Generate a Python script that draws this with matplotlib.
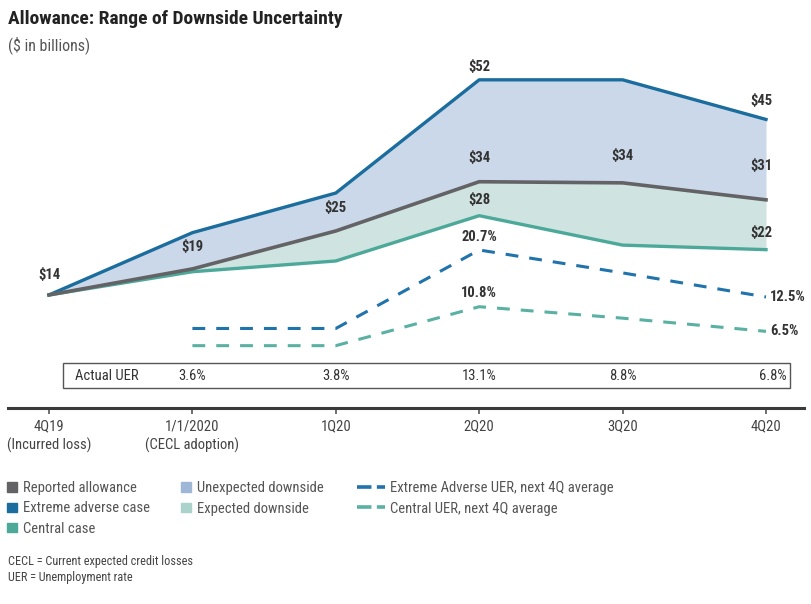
import numpy as np
import matplotlib
matplotlib.use("Agg")
import matplotlib.pyplot as plt
from matplotlib.patches import Patch, Rectangle
from matplotlib.lines import Line2D
from matplotlib.transforms import blended_transform_factory

plt.rcParams['font.family'] = ['Roboto Condensed', 'DejaVu Sans']
plt.rcParams['font.stretch'] = 'condensed'

# ---- data ----
quarters = ['4Q19\n(Incurred loss)', '1/1/2020\n(CECL adoption)', '1Q20', '2Q20', '3Q20', '4Q20']
extreme = [14, 25, 32, 52, 52, 45]
reported = [14, 18.6, 25.3, 34, 33.8, 30.8]
central = [14, 18.1, 20, 28, 22.8, 22]
uer_quarters = [1, 2, 3, 4, 5]
extreme_uer = [7.0, 7.0, 20.7, 16.7, 12.5]
central_uer = [4.0, 4.0, 10.8, 8.8, 6.5]
actual_uer = [3.6, 3.8, 13.1, 8.8, 6.8]

# colours
c_extreme = '#1b6d9e'
c_reported = '#636366'
c_central = '#4ca99a'
c_unexp = '#cbd8e9'
c_exp = '#cfe3e0'
c_dash_ext = '#2073ab'
c_dash_cen = '#5ab1a3'
c_text = '#333333'

fig = plt.figure(figsize=(8.12, 6.04), dpi=100)
ax = fig.add_axes([8 / 812, 1 - 408 / 604, 796 / 812, 348 / 604])
x = np.arange(len(quarters))

ax.fill_between(x, reported, extreme, color=c_unexp, lw=0, zorder=1)
ax.fill_between(x, central, reported, color=c_exp, lw=0, zorder=1)
ax.plot(x, extreme, color=c_extreme, lw=2.4, zorder=3)
ax.plot(x, central, color=c_central, lw=2.4, zorder=3)
ax.plot(x, reported, color=c_reported, lw=2.6, zorder=4)

ax.set_xlim(-0.286, 5.265)
ax.set_ylim(-5.97, 55.5)

# UER on its own (hidden) scale
ax2 = ax.twinx()
ax2.set_ylim(-6.88, 53.86)
ax2.plot(uer_quarters, extreme_uer, color=c_dash_ext, lw=2.2, dashes=(4.2, 3.6))
ax2.plot(uer_quarters, central_uer, color=c_dash_cen, lw=2.2, dashes=(4.2, 3.6))
ax2.axis('off')

# value labels
def lab(axis, xi, val, text, dx=0, dy=12, ha='center'):
    axis.annotate(text, (xi, val), xytext=(dx, dy), textcoords='offset points',
                  ha=ha, va='center', fontsize=10.5, fontweight='bold', color=c_text)

lab(ax, 0, extreme[0], r'\$14', dy=14.5)
lab(ax, 1, reported[1], r'\$19', dy=16)
lab(ax, 2, reported[2], r'\$25', dy=16.5)
lab(ax, 3, extreme[3], r'\$52', dy=9.5)
lab(ax, 3, reported[3], r'\$34', dy=17)
lab(ax, 3, central[3], r'\$28', dy=11)
lab(ax, 4, reported[4], r'\$34', dy=19.5)
lab(ax, 5, extreme[5], r'\$45', dx=-3, dy=13.5)
lab(ax, 5, reported[5], r'\$31', dx=-3, dy=24.5)
lab(ax, 5, central[5], r'\$22', dx=-3, dy=12)
lab(ax2, 3, extreme_uer[2], '20.7%', dy=9.5)
lab(ax2, 3, central_uer[2], '10.8%', dy=10)
lab(ax2, 5, extreme_uer[4], '12.5%', dx=3, dy=0, ha='left')
lab(ax2, 5, central_uer[4], '6.5%', dx=3, dy=0, ha='left')

# axis styling
for s in ['top', 'right', 'left']:
    ax.spines[s].set_visible(False)
ax.spines['bottom'].set_linewidth(2.2)
ax.spines['bottom'].set_color('#3a3a3a')
ax.set_yticks([])
ax.set_xticks(x)
ax.set_xticklabels(quarters, fontsize=10.5, color='#444444', linespacing=1.3)
ax.tick_params(axis='x', direction='out', length=4.5, width=1.2, color='#555555', pad=4)

# actual UER box
fig.patches.append(Rectangle((63 / 812, 1 - 388 / 604), 727 / 812, 25 / 604,
                             transform=fig.transFigure, fill=False,
                             edgecolor='#555555', lw=1))
trans = blended_transform_factory(ax.transData, fig.transFigure)
fig.text(75 / 812, 1 - 376 / 604, 'Actual UER', fontsize=10.5, color=c_text, va='center')
for xi, v in zip(uer_quarters, actual_uer):
    off = 7 if xi == 5 else 0
    ax.annotate(f'{v:.1f}%', (xi, 1 - 376 / 604), xycoords=trans, xytext=(off * 0.72, 0),
                textcoords='offset points', ha='center', va='center',
                fontsize=10.5, color=c_text, annotation_clip=False)

# titles
fig.text(8 / 812, 1 - 19 / 604, 'Allowance: Range of Downside Uncertainty',
         fontsize=14, fontweight='bold', color='#222222', va='center')
fig.text(8 / 812, 1 - 45 / 604, r'(\$ in billions)', fontsize=11.5, color='#555555', va='center')

# legends
sq = [Patch(color=c_reported, label='Reported allowance'),
      Patch(color=c_extreme, label='Extreme adverse case'),
      Patch(color=c_central, label='Central case'),
      Patch(color='#9fb7d6', label='Unexpected downside'),
      Patch(color='#acd2cc', label='Expected downside')]
fig.legend(handles=sq, loc='upper left', bbox_to_anchor=(3 / 812, 1 - 477 / 604),
           ncol=2, frameon=False, fontsize=10.5, handlelength=0.65, handleheight=0.65,
           handletextpad=0.45, columnspacing=2.1, labelspacing=0.42,
           borderaxespad=0, borderpad=0.3, labelcolor='#555555')
dl = [Line2D([], [], color=c_dash_ext, lw=2.6, dashes=(4, 1.5),
             label='Extreme Adverse UER, next 4Q average'),
      Line2D([], [], color=c_dash_cen, lw=2.6, dashes=(4, 1.5),
             label='Central UER, next 4Q average')]
fig.legend(handles=dl, loc='upper left', bbox_to_anchor=(353 / 812, 1 - 477 / 604),
           frameon=False, fontsize=10.5, handlelength=1.9, handletextpad=0.35,
           labelspacing=0.42, borderaxespad=0, borderpad=0.3, labelcolor='#555555')

# footnotes
fig.text(8 / 812, 1 - 561 / 604, 'CECL = Current expected credit losses', fontsize=8.8, color='#444444', va='center')
fig.text(8 / 812, 1 - 578 / 604, 'UER = Unemployment rate', fontsize=8.8, color='#444444', va='center')

fig.savefig('out.png', dpi=100)
